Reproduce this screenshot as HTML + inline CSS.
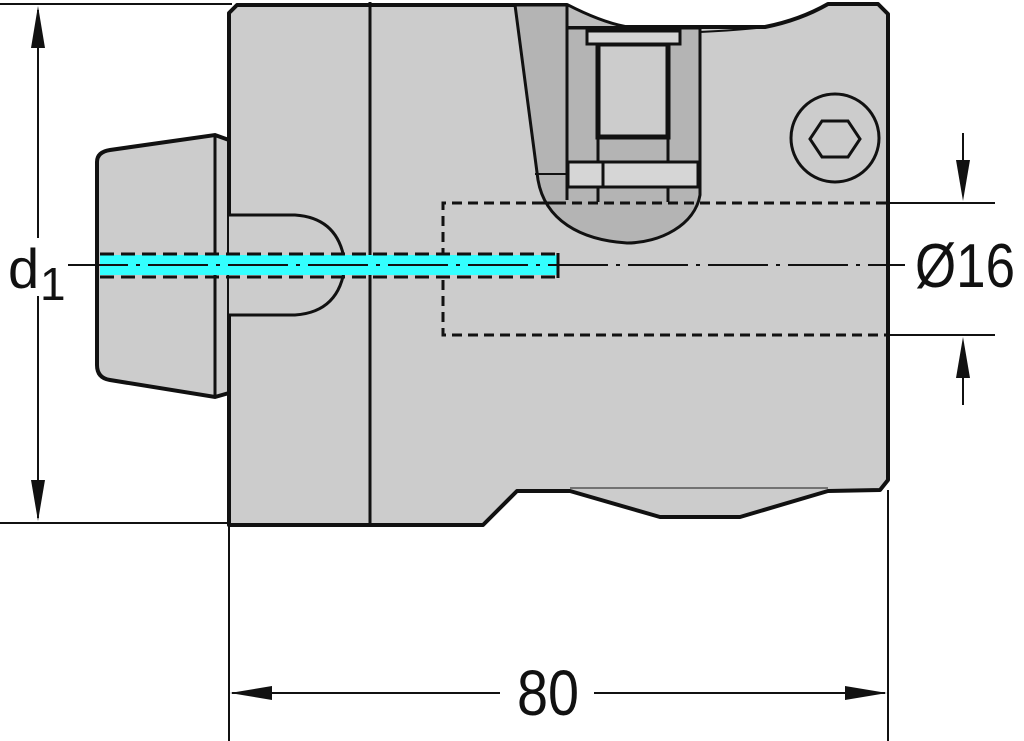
<!DOCTYPE html>
<html><head><meta charset="utf-8"><style>
html,body{margin:0;padding:0;background:#fff;}
svg{display:block;}
text{font-family:"Liberation Sans",sans-serif;fill:#111;}
</style></head><body>
<svg width="1024" height="741" viewBox="0 0 1024 741" xmlns="http://www.w3.org/2000/svg">
<g stroke="#111" stroke-width="2" fill="none">
<line x1="0" y1="4" x2="232" y2="4"/>
<line x1="0" y1="523" x2="232" y2="523"/>
<line x1="229" y1="525" x2="229" y2="741"/>
<line x1="888" y1="490" x2="888" y2="741"/>
<line x1="888" y1="203" x2="995" y2="203"/>
<line x1="888" y1="335" x2="995" y2="335"/>
</g>
<path d="M110,150 L215,135 L229,140 L229,393 L215,397 L110,380 Q97,378 97,365 L97,162 Q97,152 110,150 Z" fill="#cccccc" stroke="#111" stroke-width="4"/>
<line x1="215" y1="136" x2="215" y2="396" stroke="#111" stroke-width="3"/>
<path d="M237,5 L567,5 Q600,22 625,27 L765,27 Q800,20 828,4 L878,4 L888,14 L888,480 L880,490 L828,491 L740,517 L660,517 L570,491 L517,491 L483,525 L229,525 L229,13 Z" fill="#cccccc" stroke="#111" stroke-width="4" stroke-linejoin="round"/>
<line x1="370" y1="2" x2="370" y2="527" stroke="#111" stroke-width="3"/>
<line x1="570" y1="488" x2="828" y2="488" stroke="#555" stroke-width="1.5"/>
<path d="M515,5 L567,5 L567,28 L700,28 L700,195 C695,225 660,243 627,243 C580,240 545,220 538,180 Z" fill="#b4b4b4" stroke="#111" stroke-width="3"/>
<path d="M567,5 Q600,22 625,27 L567,27 Z" fill="#bdbdbd" stroke="#111" stroke-width="2"/>
<line x1="567" y1="5" x2="567" y2="200" stroke="#111" stroke-width="3"/>
<line x1="535" y1="174" x2="567" y2="174" stroke="#111" stroke-width="2"/>
<line x1="567" y1="28" x2="700" y2="28" stroke="#111" stroke-width="3"/>
<path d="M700,32 Q740,30 765,27" fill="none" stroke="#111" stroke-width="2"/>
<rect x="598" y="44" width="70" height="93" fill="#cccccc" stroke="#111" stroke-width="5"/>
<rect x="587" y="31" width="93" height="13" fill="#d6d6d6" stroke="#111" stroke-width="3"/>
<line x1="598" y1="137" x2="598" y2="202" stroke="#111" stroke-width="3"/>
<line x1="668" y1="137" x2="668" y2="202" stroke="#111" stroke-width="3"/>
<rect x="568" y="162" width="130" height="25" fill="#d6d6d6" stroke="#111" stroke-width="3"/>
<line x1="603" y1="162" x2="603" y2="187" stroke="#111" stroke-width="3"/>
<circle cx="835" cy="138" r="44" fill="none" stroke="#111" stroke-width="3"/>
<polygon points="810,139 822,121 848,121 860,139 848,157 822,157" fill="none" stroke="#111" stroke-width="3"/>
<path d="M229,215 L295,215 Q340,218 345,265 Q340,312 295,315 L229,315" fill="#cccccc" stroke="#111" stroke-width="3"/>
<path d="M558,203 L443,203 L443,335 L888,335 M540,203 L888,203" fill="none" stroke="#111" stroke-width="3" stroke-dasharray="10,6"/>
<rect x="100" y="255" width="458" height="20" fill="#33ffff"/>
<g stroke="#111" stroke-width="3" stroke-dasharray="14,7" fill="none">
<line x1="100" y1="254" x2="558" y2="254"/>
<line x1="100" y1="277" x2="558" y2="277"/>
</g>
<line x1="558" y1="253" x2="558" y2="278" stroke="#111" stroke-width="3"/>
<line x1="68" y1="265" x2="905" y2="265" stroke="#111" stroke-width="2" stroke-dasharray="60,8,4,8"/>
<line x1="38" y1="10" x2="38" y2="518" stroke="#111" stroke-width="2"/>
<polygon points="38,6 31,48 45,48" fill="#111"/>
<polygon points="38,521 31,480 45,480" fill="#111"/>
<rect x="8" y="238" width="60" height="58" fill="#fff"/>
<text x="8" y="288" font-size="56">d</text>
<text x="40" y="300" font-size="46">1</text>
<line x1="68" y1="265" x2="100" y2="265" stroke="#111" stroke-width="2"/>
<line x1="232" y1="693" x2="500" y2="693" stroke="#111" stroke-width="2"/>
<line x1="594" y1="693" x2="885" y2="693" stroke="#111" stroke-width="2"/>
<polygon points="230,693 272,686 272,700" fill="#111"/>
<polygon points="887,693 845,686 845,700" fill="#111"/>
<text x="517" y="715" font-size="64" textLength="62" lengthAdjust="spacingAndGlyphs">80</text>
<line x1="963" y1="133" x2="963" y2="180" stroke="#111" stroke-width="2"/>
<polygon points="963,201 956,160 970,160" fill="#111"/>
<line x1="963" y1="360" x2="963" y2="405" stroke="#111" stroke-width="2"/>
<polygon points="963,337 956,378 970,378" fill="#111"/>
<text x="915" y="287" font-size="62" textLength="100" lengthAdjust="spacingAndGlyphs">Ø16</text>
</svg>
</body></html>
